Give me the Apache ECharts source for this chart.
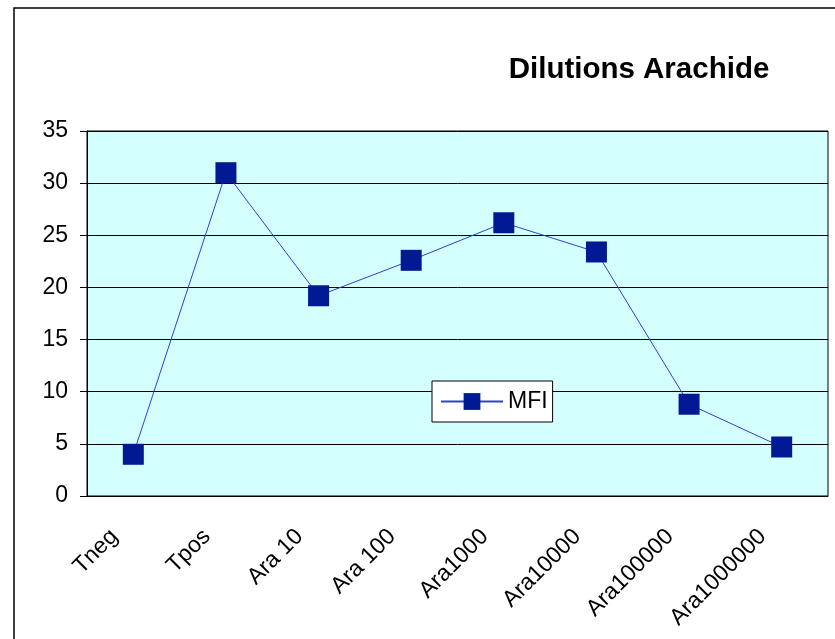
<!DOCTYPE html>
<html>
<head>
<meta charset="utf-8">
<script src="https://cdn.jsdelivr.net/npm/echarts@6/dist/echarts.min.js"></script>
<style>
  html, body { margin: 0; padding: 0; background: #fff; }
  #chart { width: 835px; height: 639px; }
</style>
</head>
<body>
<div id="chart"></div>
<script>
const categories = ['Tneg', 'Tpos', 'Ara 10', 'Ara 100', 'Ara1000', 'Ara10000', 'Ara100000', 'Ara1000000'];
const mfiValues = [4.0, 31.0, 19.2, 22.6, 26.2, 23.4, 8.8, 4.7];
const yTicks = { min: 0, max: 35, interval: 5 };

const chartDom = document.getElementById('chart');
const myChart = echarts.init(chartDom);

const option = {
  animation: false,
  backgroundColor: '#fff',
  textStyle: { fontFamily: 'Liberation Sans, Arial, sans-serif' },
  graphic: [
    {
      type: 'rect',
      shape: { x: 14, y: 8, width: 840, height: 660 },
      style: { fill: 'none', stroke: '#000', lineWidth: 1.5 },
      z: -1
    }
  ],
  title: {
    text: 'Dilutions Arachide',
    left: 634,
    top: 50,
    textAlign: 'center',
    textStyle: { fontSize: 29.5, fontWeight: 'bold', color: '#000' }
  },
  legend: {
    left: 432,
    top: 381,
    orient: 'horizontal',
    backgroundColor: '#fff',
    borderColor: '#000',
    borderWidth: 1,
    padding: [9, 5, 9, 8],
    itemWidth: 62,
    itemHeight: 21,
    itemGap: 0,
    textStyle: { fontSize: 23, color: '#000', padding: [0, 0, 0, 0] },
    data: ['MFI']
  },
  grid: {
    left: 87,
    right: 7,
    top: 131,
    bottom: 143,
    show: true,
    backgroundColor: '#D4FFFF',
    borderColor: '#000',
    borderWidth: 1
  },
  xAxis: {
    type: 'category',
    data: categories,
    boundaryGap: true,
    axisLine: { lineStyle: { color: '#000', width: 1 } },
    axisTick: { length: 7, lineStyle: { color: '#000' } },
    axisLabel: { rotate: 45, fontSize: 23, color: '#000', margin: 18, padding: [0, 27, 0, 0], interval: 0 }
  },
  yAxis: {
    type: 'value',
    min: yTicks.min,
    max: yTicks.max,
    interval: yTicks.interval,
    axisLine: { show: true, lineStyle: { color: '#000', width: 1 } },
    axisTick: { show: true, length: 7, lineStyle: { color: '#000' } },
    axisLabel: { fontSize: 23, color: '#000', margin: 19 },
    splitLine: { lineStyle: { color: '#000', width: 1 } }
  },
  series: [
    {
      name: 'MFI',
      type: 'line',
      data: mfiValues,
      symbol: 'rect',
      symbolSize: 21,
      lineStyle: { color: '#3340C8', width: 1 },
      itemStyle: { color: '#001A94' }
    }
  ]
};

myChart.setOption(option);
window.addEventListener('resize', myChart.resize);
</script>
</body>
</html>
